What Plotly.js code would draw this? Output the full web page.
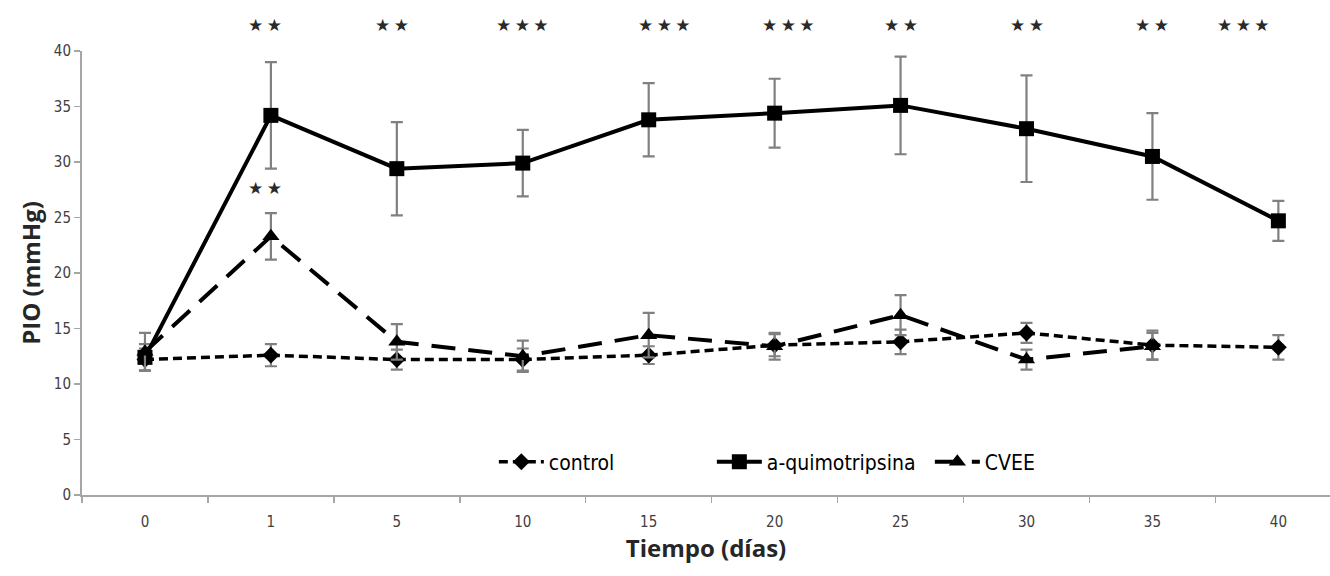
<!DOCTYPE html>
<html>
<head>
<meta charset="utf-8">
<script src="https://cdn.plot.ly/plotly-3.0.1.min.js"></script>
<style>
  html, body { margin: 0; padding: 0; background: #ffffff; }
  #chart { width: 1330px; height: 576px; }
</style>
</head>
<body>
<div id="chart"></div>
<script>
// ---- Data ----
const days = ["0", "1", "5", "10", "15", "20", "25", "30", "35", "40"];

const controlValues = [12.2, 12.6, 12.2, 12.2, 12.6, 13.5, 13.8, 14.6, 13.5, 13.3];
const controlErrors = [1.0, 1.0, 0.9, 1.0, 0.8, 1.0, 1.1, 0.9, 1.3, 1.1];

const quimoValues = [12.4, 34.2, 29.4, 29.9, 33.8, 34.4, 35.1, 33.0, 30.5, 24.7];
const quimoErrors = [1.2, 4.8, 4.2, 3.0, 3.3, 3.1, 4.4, 4.8, 3.9, 1.8];

const cveeDays = ["0", "1", "5", "10", "15", "20", "25", "30", "35"];
const cveeValues = [12.9, 23.3, 13.8, 12.5, 14.4, 13.4, 16.2, 12.2, 13.4];
const cveeErrors = [1.7, 2.1, 1.6, 1.4, 2.0, 1.2, 1.8, 0.9, 1.2];

// significance marks (a-quimotripsina vs control) shown above the plot
const starDays = ["1", "5", "10", "15", "20", "25", "30", "35", "40"];
const starCounts = [2, 2, 3, 3, 3, 2, 2, 2, 3];
// significance mark for CVEE at day 1
const cveeStarDay = "1";
const cveeStarCount = 2;

const seriesNames = ["control", "a-quimotripsina", "CVEE"];

// ---- Styling ----
const errStyle = (arr) => ({
  type: "data", array: arr, visible: true,
  color: "#808080", thickness: 2.2, width: 6
});

const traces = [
  {
    name: seriesNames[0], x: days, y: controlValues, type: "scatter", mode: "lines+markers",
    line: { color: "#000000", width: 3.5, dash: "9px,5px" },
    marker: { symbol: "diamond", size: 13, color: "#000000" },
    error_y: errStyle(controlErrors)
  },
  {
    name: seriesNames[1], x: days, y: quimoValues, type: "scatter", mode: "lines+markers",
    line: { color: "#000000", width: 4 },
    marker: { symbol: "square", size: 15, color: "#000000" },
    error_y: errStyle(quimoErrors)
  },
  {
    name: seriesNames[2], x: cveeDays, y: cveeValues, type: "scatter", mode: "lines+markers",
    line: { color: "#000000", width: 4, dash: "24px,13px" },
    marker: { symbol: "triangle-up", size: 15, color: "#000000" },
    error_y: errStyle(cveeErrors)
  }
];

const starText = (n) => Array(n).fill("\u2605").join("\u2009");
const starShift = { "15": 16, "20": 14, "40": -35, "1": -6, "5": -5 };
const starFont = { family: "DejaVu Sans", size: 17, color: "#2a2a2a" };

// annotation x on a category axis is given as the category index
const annotations = starDays.map((d, i) => ({
  x: days.indexOf(d), y: 1.058, xref: "x", yref: "paper", yanchor: "middle",
  text: starText(starCounts[i]), showarrow: false,
  xshift: starShift[d] || 0,
  font: starFont
}));
annotations.push({
  x: days.indexOf(cveeStarDay), y: 27.7, xref: "x", yref: "y", yanchor: "middle",
  text: starText(cveeStarCount), showarrow: false, xshift: -6,
  font: starFont
});

const axisGray = "#a6a6a6";
const titleFont = { size: 24, color: "#262626", family: "Open Sans, Liberation Sans, sans-serif" };
const layout = {
  width: 1330, height: 576,
  paper_bgcolor: "#ffffff", plot_bgcolor: "#ffffff",
  margin: { l: 82, r: 0, t: 51, b: 81 },
  showlegend: true,
  font: { family: "Liberation Sans Narrow, DejaVu Sans Condensed, Liberation Sans, sans-serif", color: "#404040" },
  xaxis: {
    type: "category", categoryorder: "array", categoryarray: days,
    range: [-0.5, 9.41],
    tickson: "boundaries", ticks: "outside", ticklen: 6, tickcolor: axisGray, tickwidth: 1.5,
    ticklabelstandoff: 12,
    showline: true, linecolor: axisGray, linewidth: 2,
    showgrid: false, zeroline: false,
    tickfont: { size: 15, color: "#404040" },
    title: { text: "<b>Tiempo (días)</b>", font: titleFont, standoff: 10 }
  },
  yaxis: {
    range: [0, 40], dtick: 5, tick0: 0,
    ticks: "outside", ticklen: 6, tickcolor: axisGray, tickwidth: 1.5,
    showline: true, linecolor: axisGray, linewidth: 2,
    showgrid: false, zeroline: false,
    tickfont: { size: 15, color: "#404040" },
    title: { text: "<b>PIO (mmHg)</b>", font: titleFont, standoff: 6 }
  },
  legend: {
    orientation: "h", x: 0.33, y: 0.074, xanchor: "left", yanchor: "middle",
    bgcolor: "rgba(0,0,0,0)", itemwidth: 45, entrywidth: 158, entrywidthmode: "pixels",
    font: { size: 21, color: "#000000", family: "Liberation Sans Narrow, DejaVu Sans Condensed, sans-serif" },
    traceorder: "normal"
  },
  annotations: annotations
};

Plotly.newPlot("chart", traces, layout, { displayModeBar: false, staticPlot: true });
</script>
</body>
</html>
